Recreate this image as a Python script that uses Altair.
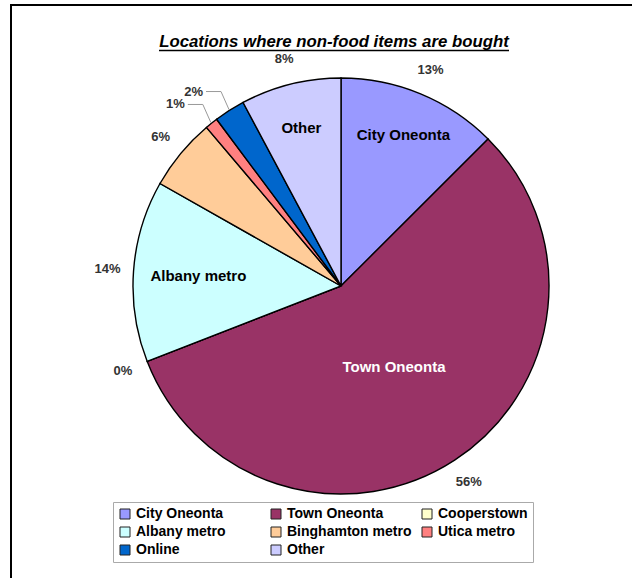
import altair as alt
import pandas as pd

categories = ["City Oneonta", "Town Oneonta", "Cooperstown", "Albany metro",
              "Binghamton metro", "Utica metro", "Online", "Other"]
shares = [12.5, 56.6, 0.0, 14.1, 5.6, 1.0, 2.4, 7.8]
pct_labels = ["13%", "56%", "0%", "14%", "6%", "1%", "2%", "8%"]
colors = ["#9999FF", "#993366", "#FFFFCC", "#CCFFFF", "#FFCC99", "#FF8080", "#0066CC", "#CCCCFF"]
title_text = "Locations where non-food items are bought"

FONT = "Liberation Sans"
CX, CY, R = 341, 286, 208

df = pd.DataFrame({"cat": categories, "share": shares, "pct": pct_labels,
                   "idx": list(range(len(categories)))})

theta = alt.Theta("share:Q", stack=True)
order = alt.Order("idx:Q", sort="ascending")
cx = alt.value(CX)
cy = alt.value(CY)

base = alt.Chart(df)

pie = base.mark_arc(radius=R, stroke="black", strokeWidth=1.4).encode(
    theta=theta, order=order, x=cx, y=cy,
    color=alt.Color("cat:N", scale=alt.Scale(domain=categories, range=colors),
                    sort=categories,
                    legend=alt.Legend(title=None, orient="none", legendX=113, legendY=502,
                                      direction="horizontal",
                                      columns=3, gridAlign="all", columnPadding=8,
                                      rowPadding=4, padding=5, strokeColor="#aaaaaa",
                                      fillColor="white", symbolType="square",
                                      symbolSize=100, symbolStrokeColor="#222222",
                                      symbolStrokeWidth=1, symbolOpacity=1,
                                      labelFont=FONT, labelFontSize=14,
                                      labelFontWeight="bold", labelColor="black",
                                      labelOffset=4, labelLimit=300)),
)


def inner(names, radius, color):
    cond = " || ".join([f"datum.cat == '{n}'" for n in names])
    return base.transform_calculate(lab=f"({cond}) ? datum.cat : ''").mark_text(
        radius=radius, font=FONT, fontSize=15, fontWeight="bold", color=color,
        align="center", baseline="middle").encode(
        theta=theta, order=order, x=cx, y=cy, text="lab:N")


lab_a = inner(["City Oneonta", "Other"], 163, "black")
lab_b = inner(["Albany metro"], 143, "black")
lab_c = inner(["Town Oneonta"], 97, "white")

pct = base.transform_calculate(
    lab="(datum.cat == 'Utica metro' || datum.cat == 'Online') ? '' : datum.pct"
).mark_text(radius=234, font=FONT, fontSize=13, fontWeight="bold", color="#333333",
            align="center", baseline="middle").encode(
    theta=theta, order=order, x=cx, y=cy, text="lab:N")

small = base.transform_joinaggregate(total="sum(share)").transform_window(
    cum="sum(share)", sort=[alt.SortField("idx")], frame=[None, 0]
).transform_calculate(
    mid="(datum.cum - datum.share / 2) / datum.total * 2 * PI",
    ex=f"{CX} + {R + 1} * sin(datum.mid)",
    ey=f"{CY} - {R + 1} * cos(datum.mid)",
    kx="datum.ex - 8",
    ky="datum.ey - 18",
).transform_filter(
    alt.FieldOneOfPredicate(field="cat", oneOf=["Utica metro", "Online"])
)

leader = small.transform_calculate(pts="[0, 1, 2]").transform_flatten(["pts"]).transform_calculate(
    px="datum.pts == 0 ? datum.ex : (datum.pts == 1 ? datum.kx : datum.kx - 15)",
    py="datum.pts == 0 ? datum.ey : datum.ky",
).mark_line(color="#999999", strokeWidth=1).encode(
    x=alt.X("px:Q", scale=None, axis=None),
    y=alt.Y("py:Q", scale=None, axis=None),
    detail="cat:N",
    order="pts:Q",
)

small_lab = small.transform_calculate(lx="datum.kx - 18").mark_text(
    font=FONT, fontSize=13, fontWeight="bold", color="#333333",
    align="right", baseline="middle").encode(
    x=alt.X("lx:Q", scale=None, axis=None),
    y=alt.Y("ky:Q", scale=None, axis=None),
    text="pct:N")

one = alt.Chart(pd.DataFrame({"t": [title_text]}))
title = one.mark_text(font=FONT, fontSize=16.8, fontWeight="bold", fontStyle="italic",
                      color="black", align="center", baseline="alphabetic").encode(
    x=alt.value(334), y=alt.value(47), text="t:N")
underline = one.mark_rule(color="black", strokeWidth=1.5).encode(
    x=alt.value(159), x2=alt.value(509), y=alt.value(50.5))
frame = one.mark_rect(fill=None, stroke="black", strokeWidth=2, fillOpacity=0).encode(
    x=alt.value(11), y=alt.value(5), x2=alt.value(700), y2=alt.value(700))

chart = alt.layer(frame, pie, lab_a, lab_b, lab_c, pct, leader, small_lab, title, underline).properties(
    width=632, height=578,
    autosize=alt.AutoSizeParams(type="none"),
    padding=0,
    background="white",
).configure_view(stroke=None)

chart.save("out.html", embed_options={"renderer": "svg", "actions": False})
